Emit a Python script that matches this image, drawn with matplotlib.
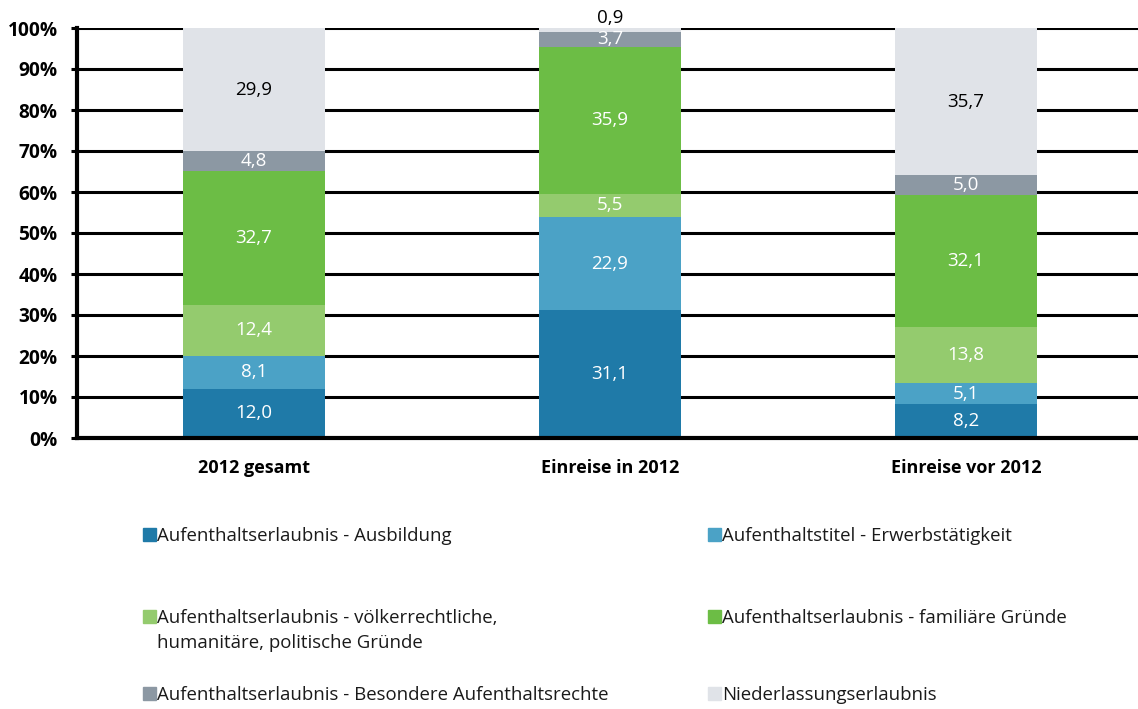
import matplotlib
matplotlib.use("Agg")
import matplotlib.pyplot as plt
from matplotlib.patches import Rectangle
import numpy as np

plt.rcParams['font.family'] = ['Open Sans', 'DejaVu Sans']

categories = ["2012 gesamt", "Einreise in 2012", "Einreise vor 2012"]
series_names = [
    "Aufenthaltserlaubnis - Ausbildung",
    "Aufenthaltstitel - Erwerbstätigkeit",
    "Aufenthaltserlaubnis - völkerrechtliche,\nhumanitäre, politische Gründe",
    "Aufenthaltserlaubnis - familiäre Gründe",
    "Aufenthaltserlaubnis - Besondere Aufenthaltsrechte",
    "Niederlassungserlaubnis",
]
ausbildung = [12.0, 31.1, 8.2]
erwerb = [8.1, 22.9, 5.1]
humanitaer = [12.4, 5.5, 13.8]
familie = [32.7, 35.9, 32.1]
besondere = [4.8, 3.7, 5.0]
niederlassung = [29.9, 0.9, 35.7]
yticks = [0, 10, 20, 30, 40, 50, 60, 70, 80, 90, 100]

series = [ausbildung, erwerb, humanitaer, familie, besondere, niederlassung]
colors = ["#1f7aa8", "#4ba2c6", "#94cb6e", "#6cbd45", "#8c98a3", "#e0e3e8"]
label_colors = ["white", "white", "white", "white", "white", "black"]

fig = plt.figure(figsize=(11.38, 7.09), dpi=100)
ax = fig.add_axes([77/1138, 1-438/709, 1-77/1138, 410/709])

x = np.arange(len(categories))
width = 0.40
bottom = np.zeros(len(categories))
for vals, col, lc in zip(series, colors, label_colors):
    vals = np.array(vals)
    ax.bar(x, vals, width, bottom=bottom, color=col, zorder=3)
    for xi, v, b in zip(x, vals, bottom):
        txt = f"{v:.1f}".replace(".", ",")
        if v < 2:
            ax.text(xi, 100.3, txt, ha="center", va="bottom", fontsize=13.5, color="black", zorder=4)
        else:
            ax.text(xi, b + v/2, txt, ha="center", va="center", fontsize=13.5, color=lc, zorder=4)
    bottom += vals

ax.set_xlim(-0.497, 2.483)
ax.set_ylim(0, 100)
ax.set_yticks(yticks)
ax.set_yticklabels([f"{t}%" for t in yticks], fontsize=13.8, fontweight="bold")
ax.yaxis.grid(True, color="black", linewidth=2.2, zorder=1)
ax.set_axisbelow(True)
ax.set_xticks(x)
ax.set_xticklabels(categories, fontsize=13, fontweight="bold")
ax.tick_params(axis="x", length=0, pad=15)
ax.tick_params(axis="y", length=4, width=2.2, pad=10)
for s in ["top", "right"]:
    ax.spines[s].set_visible(False)
ax.spines["left"].set_linewidth(3)
ax.spines["bottom"].set_linewidth(3)
ax.spines["left"].set_zorder(5)
ax.spines["bottom"].set_zorder(5)
ax.set_facecolor("white")

# Legend (manual placement): (marker left x, marker bottom y) in pixels
leg_pos = [(143, 541), (708, 541), (143, 623), (708, 623), (143, 700), (708, 700)]
for (px, py), name, col in zip(leg_pos, series_names, colors):
    fig.patches.append(Rectangle((px/1138, 1-py/709), 13/1138, 13/709,
                                 transform=fig.transFigure, color=col))
    lines = name.split("\n")
    for i, line in enumerate(lines):
        fig.text((px+14)/1138, 1-(py + 25*i)/709, line, ha="left", va="baseline",
                 fontsize=13.4, color="#1a1a1a")

fig.savefig("out.png", dpi=100)
